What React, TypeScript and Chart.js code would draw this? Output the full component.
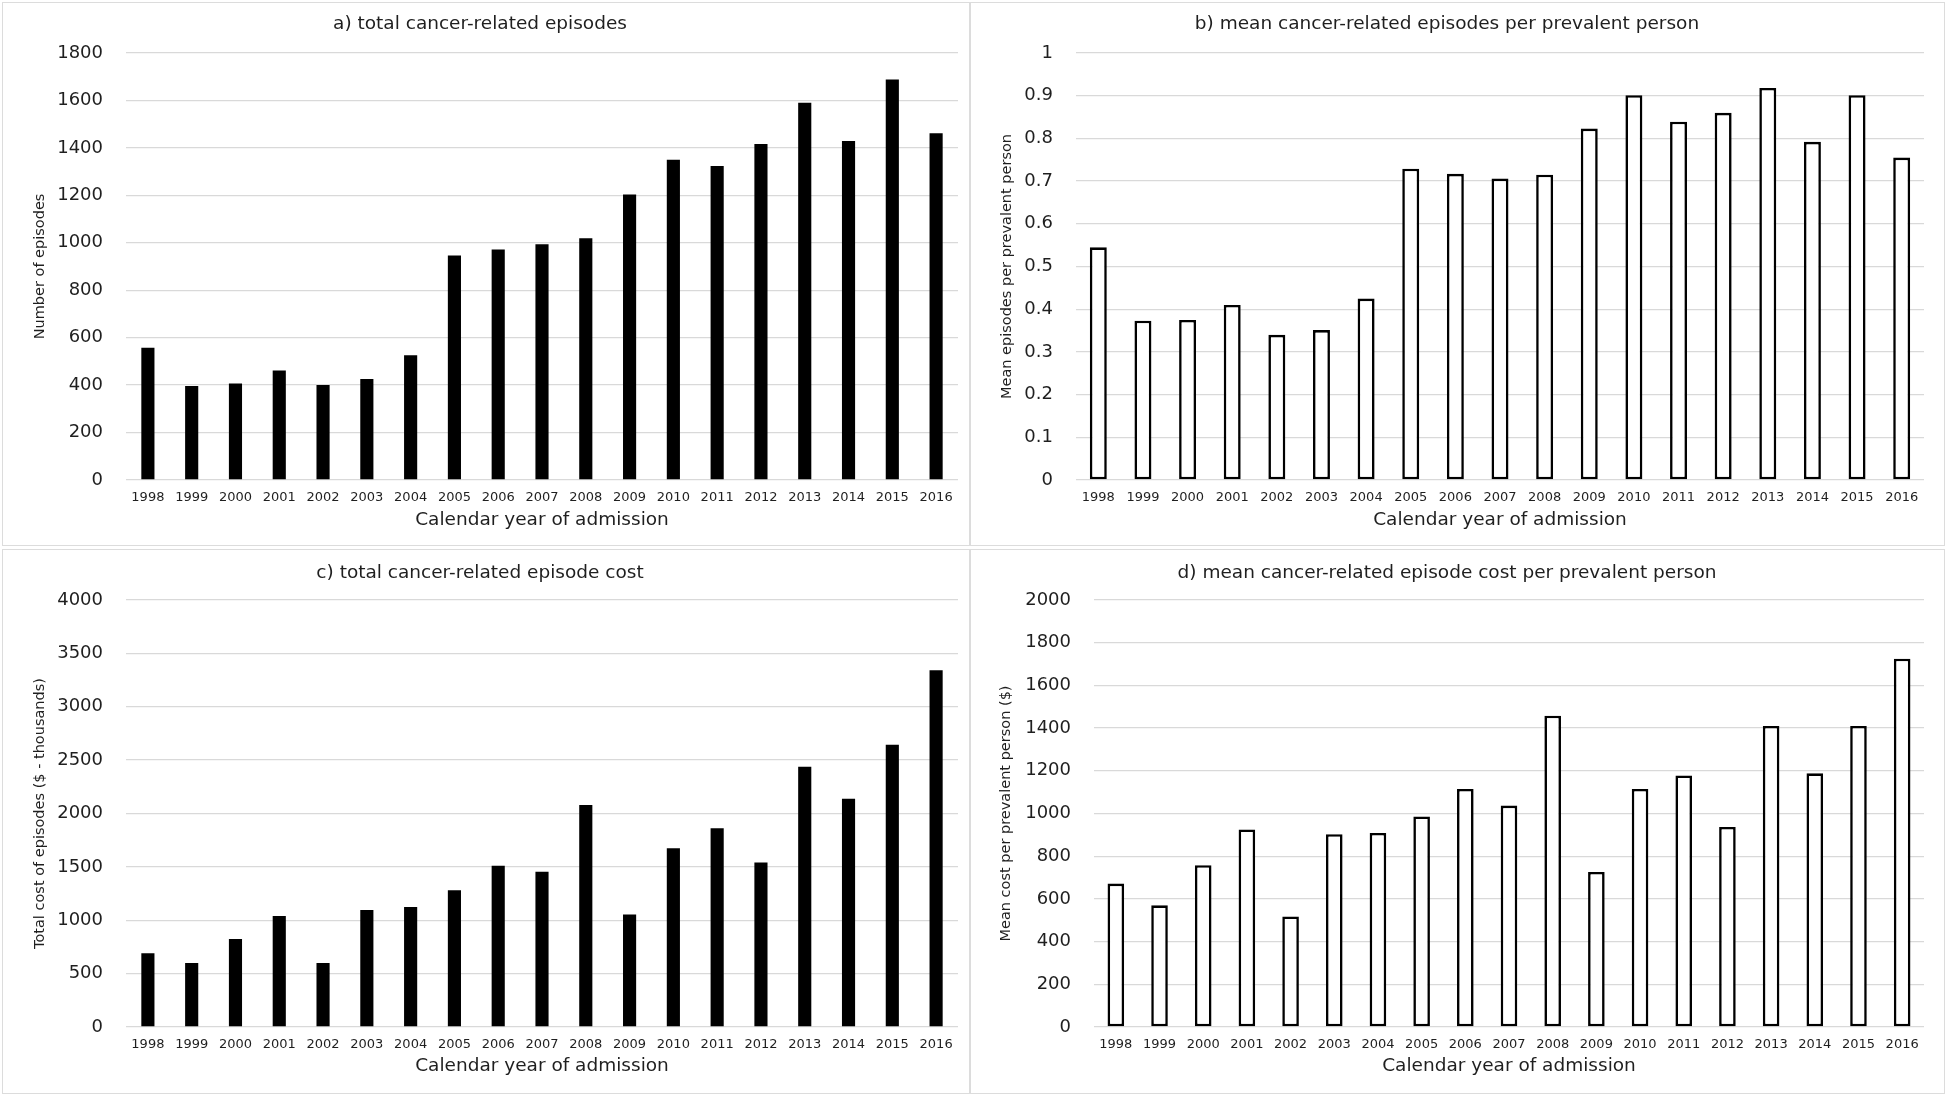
import React, { useEffect, useRef } from "react";
import { Chart, registerables } from "chart.js";

Chart.register(...registerables);

const years = ["1998", "1999", "2000", "2001", "2002", "2003", "2004", "2005", "2006", "2007", "2008", "2009", "2010", "2011", "2012", "2013", "2014", "2015", "2016"];

const totalEpisodes = [558, 396, 407, 462, 400, 426, 526, 946, 972, 994, 1019, 1203, 1350, 1324, 1416, 1590, 1429, 1688, 1462];
const meanEpisodes = [0.545, 0.373, 0.375, 0.41, 0.34, 0.351, 0.425, 0.729, 0.717, 0.706, 0.715, 0.823, 0.901, 0.839, 0.86, 0.918, 0.792, 0.901, 0.755];
const totalCost = [690, 600, 825, 1040, 600, 1095, 1125, 1280, 1510, 1455, 2080, 1055, 1675, 1861, 1540, 2437, 2139, 2644, 3341];
const meanCost = [672, 570, 758, 925, 518, 903, 909, 986, 1115, 1037, 1458, 726, 1115, 1178, 937, 1410, 1188, 1410, 1725];

const ticksA = [0, 200, 400, 600, 800, 1000, 1200, 1400, 1600, 1800];
const ticksB = [0, 0.1, 0.2, 0.3, 0.4, 0.5, 0.6, 0.7, 0.8, 0.9, 1];
const ticksC = [0, 500, 1000, 1500, 2000, 2500, 3000, 3500, 4000];
const ticksD = [0, 200, 400, 600, 800, 1000, 1200, 1400, 1600, 1800, 2000];

const xAxisTitle = "Calendar year of admission";

const FONT = "'DejaVu Sans', sans-serif";
const TEXT = "#1f1f1f";
const GRID = "#d9d9d9";

type PanelProps = {
  left: number;
  top: number;
  width: number;
  height: number;
  title: string;
  yTitle: string;
  values: number[];
  ticks: number[];
  filled: boolean;
  area: { left: number; right: number; top: number; bottom: number };
  titleY: number;
  yTitleX: number;
  xTickY: number;
  xTitleY: number;
  barPct: number;
};

function Panel(p: PanelProps) {
  const ref = useRef<HTMLCanvasElement | null>(null);
  useEffect(() => {
    if (!ref.current) return;
    const titleSize = 18.5;
    const titleLH = titleSize * 1.2;
    const xTickSize = 13;
    const yTitleSize = 14.5;
    const chart = new Chart(ref.current, {
      type: "bar",
      data: {
        labels: years,
        datasets: [
          {
            data: p.values,
            backgroundColor: p.filled ? "#000000" : "#ffffff",
            borderColor: "#000000",
            borderWidth: p.filled ? 0 : 2.6,
            borderSkipped: false,
            barPercentage: p.barPct,
            categoryPercentage: 1,
          },
        ],
      },
      options: {
        responsive: false,
        animation: false,
        devicePixelRatio: 1,
        layout: { padding: { left: 0, top: 0, bottom: 0, right: p.width - p.area.right } },
        plugins: {
          legend: { display: false },
          tooltip: { enabled: false },
          title: {
            display: true,
            text: p.title,
            color: TEXT,
            font: { family: FONT, size: titleSize, weight: "normal" },
            padding: {
              top: p.titleY - titleLH / 2,
              bottom: p.area.top - (p.titleY - titleLH / 2) - titleLH,
            },
          },
        },
        scales: {
          x: {
            grid: { display: false },
            border: { display: false },
            ticks: {
              color: TEXT,
              font: { family: FONT, size: xTickSize },
              padding: p.xTickY - p.area.bottom - xTickSize * 1.2,
              maxRotation: 0,
              minRotation: 0,
              autoSkip: false,
            },
            title: {
              display: true,
              text: xAxisTitle,
              color: TEXT,
              font: { family: FONT, size: titleSize },
              padding: { top: 0, bottom: p.height - p.xTitleY - titleLH / 2 },
            },
            afterFit: (s: any) => {
              s.height = p.height - p.area.bottom;
            },
          },
          y: {
            min: p.ticks[0],
            max: p.ticks[p.ticks.length - 1],
            grid: { color: GRID, lineWidth: 1.3, drawTicks: false },
            border: { display: false },
            afterBuildTicks: (s: any) => {
              s.ticks = p.ticks.map((v) => ({ value: v }));
            },
            ticks: {
              color: TEXT,
              font: { family: FONT, size: 18 },
              padding: 23,
              callback: (v: any) => String(v),
            },
            title: {
              display: true,
              text: p.yTitle,
              color: TEXT,
              font: { family: FONT, size: yTitleSize },
              padding: { top: p.yTitleX - (yTitleSize * 1.2) / 2, bottom: 0 },
            },
            afterFit: (s: any) => {
              s.width = p.area.left;
            },
          },
        },
      },
    } as any);
    return () => chart.destroy();
  }, []);
  return (
    <>
      <div
        style={{
          position: "absolute",
          left: p.left,
          top: p.top,
          width: p.width,
          height: p.height,
          border: "1.5px solid #dcdcdc",
          boxSizing: "border-box",
        }}
      />
      <canvas
        ref={ref}
        width={p.width}
        height={p.height}
        style={{ position: "absolute", left: p.left, top: p.top, width: p.width, height: p.height }}
      />
    </>
  );
}

export default function App() {
  return (
    <div style={{ position: "absolute", left: 0, top: 0, width: 1946, height: 1095, background: "#ffffff", overflow: "hidden" }}>
      <Panel
        left={2}
        top={2}
        width={968}
        height={544}
        title="a) total cancer-related episodes"
        yTitle="Number of episodes"
        values={totalEpisodes}
        ticks={ticksA}
        filled={true}
        area={{ left: 124, right: 956, top: 51, bottom: 478 }}
        titleY={22}
        yTitleX={38}
        xTickY={495}
        xTitleY={518}
        barPct={0.3}
      />
      <Panel
        left={970}
        top={2}
        width={975}
        height={544}
        title="b) mean cancer-related episodes per prevalent person"
        yTitle="Mean episodes per prevalent person"
        values={meanEpisodes}
        ticks={ticksB}
        filled={false}
        area={{ left: 106, right: 954, top: 51, bottom: 478 }}
        titleY={22}
        yTitleX={37}
        xTickY={495}
        xTitleY={518}
        barPct={0.38}
      />
      <Panel
        left={2}
        top={549}
        width={968}
        height={545}
        title="c) total cancer-related episode cost"
        yTitle="Total cost of episodes ($ - thousands)"
        values={totalCost}
        ticks={ticksC}
        filled={true}
        area={{ left: 124, right: 956, top: 51, bottom: 478 }}
        titleY={24}
        yTitleX={38}
        xTickY={495}
        xTitleY={517}
        barPct={0.3}
      />
      <Panel
        left={970}
        top={549}
        width={975}
        height={545}
        title="d) mean cancer-related episode cost per prevalent person"
        yTitle="Mean cost per prevalent person ($)"
        values={meanCost}
        ticks={ticksD}
        filled={false}
        area={{ left: 124, right: 954, top: 51, bottom: 478 }}
        titleY={24}
        yTitleX={36}
        xTickY={495}
        xTitleY={517}
        barPct={0.38}
      />
    </div>
  );
}
